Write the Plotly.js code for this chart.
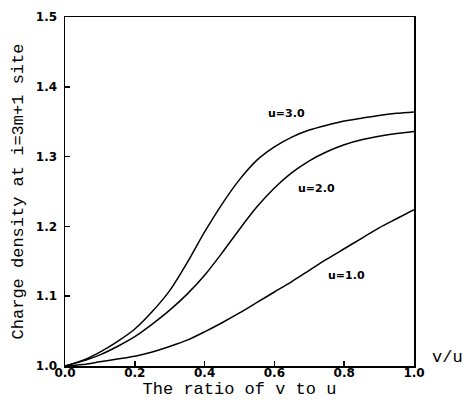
<!DOCTYPE html>
<html>
<head>
<meta charset="utf-8">
<script src="https://cdn.plot.ly/plotly-3.0.1.min.js"></script>
<style>html,body{margin:0;padding:0;background:#fff;}#chart{width:467px;height:404px;}</style>
</head>
<body>
<div id="chart"></div>
<script>
const ratio = [0, 0.05, 0.1, 0.15, 0.2, 0.25, 0.3, 0.35, 0.4, 0.45, 0.5, 0.55, 0.6, 0.65, 0.7, 0.75, 0.8, 0.85, 0.9, 0.95, 1.0];
const u3 = [1.0, 1.008, 1.02, 1.035, 1.053, 1.078, 1.108, 1.148, 1.192, 1.232, 1.267, 1.295, 1.314, 1.328, 1.338, 1.345, 1.351, 1.355, 1.359, 1.362, 1.364];
const u2 = [1.0, 1.007, 1.016, 1.028, 1.042, 1.06, 1.08, 1.103, 1.13, 1.162, 1.196, 1.228, 1.255, 1.277, 1.294, 1.307, 1.317, 1.324, 1.329, 1.333, 1.336];
const u1 = [1.0, 1.002, 1.006, 1.01, 1.014, 1.02, 1.028, 1.037, 1.049, 1.062, 1.076, 1.091, 1.106, 1.121, 1.137, 1.153, 1.168, 1.183, 1.198, 1.211, 1.224];
const seriesNames = ['u=3.0', 'u=2.0', 'u=1.0'];
const xTicks = [0, 0.2, 0.4, 0.6, 0.8, 1.0];
const xTickText = ['0.0', '0.2', '0.4', '0.6', '0.8', '1.0'];
const yTicks = [1.0, 1.1, 1.2, 1.3, 1.4, 1.5];
const yTickText = ['1.0', '1.1', '1.2', '1.3', '1.4', '1.5'];

const lineStyle = {color: '#000', width: 1.5, shape: 'spline', smoothing: 0.8};
const traces = [u3, u2, u1].map((ys, i) => ({
  x: ratio, y: ys, type: 'scatter', mode: 'lines', name: seriesNames[i],
  line: lineStyle, hoverinfo: 'skip'
}));

const labelFont = {family: 'DejaVu Sans', size: 11, color: '#000', weight: 'bold'};
const monoFont = {family: 'Liberation Mono', size: 17, color: '#000'};
const tickFont = {family: 'DejaVu Sans', size: 12, color: '#000', weight: 'bold'};

const layout = {
  width: 467, height: 404,
  margin: {l: 65, r: 53, t: 17, b: 38},
  paper_bgcolor: '#fff', plot_bgcolor: '#fff',
  showlegend: false,
  xaxis: {
    range: [0, 1], tickvals: xTicks, ticktext: xTickText,
    ticks: 'inside', ticklen: 5, tickwidth: 1.5, tickcolor: '#000',
    showline: true, linecolor: '#000', linewidth: 1.5, mirror: true,
    showgrid: false, zeroline: false,
    tickfont: tickFont, ticklabelstandoff: -5,
    title: {text: 'The ratio of v to u', font: monoFont, standoff: 2},
    automargin: false
  },
  yaxis: {
    range: [1.0, 1.5], tickvals: yTicks, ticktext: yTickText,
    ticks: 'inside', ticklen: 5, tickwidth: 1.5, tickcolor: '#000',
    showline: true, linecolor: '#000', linewidth: 1.5, mirror: true,
    showgrid: false, zeroline: false,
    tickfont: tickFont, ticklabelstandoff: 4,
    title: {text: 'Charge density at i=3m+1 site', font: monoFont, standoff: 8},
    automargin: false
  },
  annotations: [
    {x: 0.636, y: 1.362, xref: 'x', yref: 'y', text: seriesNames[0], showarrow: false, font: labelFont},
    {x: 0.72, y: 1.254, xref: 'x', yref: 'y', text: seriesNames[1], showarrow: false, font: labelFont},
    {x: 0.808, y: 1.13, xref: 'x', yref: 'y', text: seriesNames[2], showarrow: false, font: labelFont},
    {x: 1.0, y: 1.0, xref: 'paper', yref: 'y', xanchor: 'left', yanchor: 'bottom', xshift: 16, yshift: -3, text: 'v/u', showarrow: false, font: monoFont}
  ]
};

Plotly.newPlot('chart', traces, layout, {displayModeBar: false, staticPlot: true});
</script>
</body>
</html>
